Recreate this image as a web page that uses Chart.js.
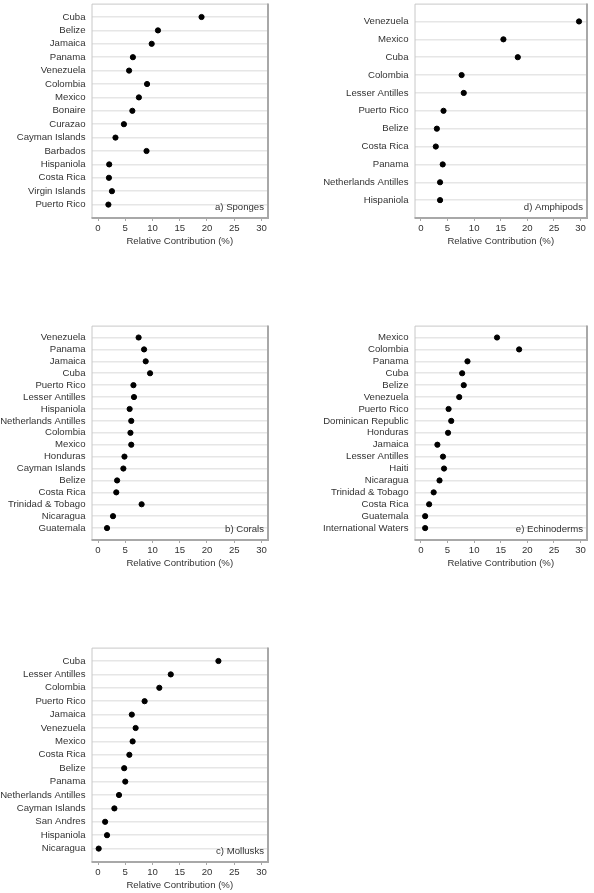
<!DOCTYPE html>
<html>
<head>
<meta charset="utf-8">
<script src="https://cdn.jsdelivr.net/npm/chart.js@4.4.0/dist/chart.umd.min.js"></script>
<style>
  body { margin: 0; background: #fff; }
  .panel { position: absolute; }
</style>
</head>
<body>
<div class="panel" style="left:0;top:0"><canvas id="sponges" width="297" height="252"></canvas></div>
<div class="panel" style="left:297px;top:0"><canvas id="amphipods" width="297" height="252"></canvas></div>
<div class="panel" style="left:0;top:322px"><canvas id="corals" width="297" height="252"></canvas></div>
<div class="panel" style="left:297px;top:322px"><canvas id="echinoderms" width="297" height="252"></canvas></div>
<div class="panel" style="left:0;top:644px"><canvas id="mollusks" width="297" height="252"></canvas></div>
<script>
// Relative contribution (%) by country, per taxon
const spongeSites = ["Cuba", "Belize", "Jamaica", "Panama", "Venezuela", "Colombia", "Mexico", "Bonaire",
  "Curazao", "Cayman Islands", "Barbados", "Hispaniola", "Costa Rica", "Virgin Islands", "Puerto Rico"];
const spongeValues = [19.0, 11.0, 9.85, 6.4, 5.7, 9.0, 7.5, 6.3, 4.75, 3.2, 8.9, 2.05, 2.0, 2.55, 1.9];

const amphipodSites = ["Venezuela", "Mexico", "Cuba", "Colombia", "Lesser Antilles", "Puerto Rico", "Belize",
  "Costa Rica", "Panama", "Netherlands Antilles", "Hispaniola"];
const amphipodValues = [29.7, 15.5, 18.2, 7.65, 8.05, 4.25, 3.0, 2.8, 4.1, 3.6, 3.6];

const coralSites = ["Venezuela", "Panama", "Jamaica", "Cuba", "Puerto Rico", "Lesser Antilles", "Hispaniola",
  "Netherlands Antilles", "Colombia", "Mexico", "Honduras", "Cayman Islands", "Belize", "Costa Rica",
  "Trinidad & Tobago", "Nicaragua", "Guatemala"];
const coralValues = [7.45, 8.45, 8.75, 9.55, 6.5, 6.6, 5.8, 6.1, 5.95, 6.1, 4.85, 4.65, 3.5, 3.35, 8.0, 2.75, 1.65];

const echinodermSites = ["Mexico", "Colombia", "Panama", "Cuba", "Belize", "Venezuela", "Puerto Rico",
  "Dominican Republic", "Honduras", "Jamaica", "Lesser Antilles", "Haiti", "Nicaragua", "Trinidad & Tobago",
  "Costa Rica", "Guatemala", "International Waters"];
const echinodermValues = [14.3, 18.45, 8.75, 7.75, 8.05, 7.2, 5.2, 5.7, 5.1, 3.1, 4.15, 4.35, 3.5, 2.4, 1.55, 0.8, 0.8];

const molluskSites = ["Cuba", "Lesser Antilles", "Colombia", "Puerto Rico", "Jamaica", "Venezuela", "Mexico",
  "Costa Rica", "Belize", "Panama", "Netherlands Antilles", "Cayman Islands", "San Andres", "Hispaniola", "Nicaragua"];
const molluskValues = [22.1, 13.35, 11.25, 8.55, 6.2, 6.9, 6.35, 5.75, 4.8, 5.0, 3.85, 3.0, 1.3, 1.65, 0.12];

const xTicks = [0, 5, 10, 15, 20, 25, 30];
const FONT = { family: "'Liberation Sans', Arial, sans-serif", size: 9.6 };
const TEXT = '#333333';

// grey frame round the plot area, plus the panel tag in its lower right corner
const frame = {
  id: 'frame',
  beforeDatasetsDraw(chart) {
    const { ctx, chartArea: a } = chart;
    ctx.save();
    ctx.strokeStyle = '#c8c8c8';
    ctx.lineWidth = 1;
    ctx.beginPath();
    ctx.moveTo(a.left + 0.5, a.bottom);
    ctx.lineTo(a.left + 0.5, a.top + 0.5);
    ctx.lineTo(a.right, a.top + 0.5);
    ctx.stroke();
    ctx.strokeStyle = '#a8a8a8';
    ctx.lineWidth = 2;
    ctx.beginPath();
    ctx.moveTo(a.right, a.top);
    ctx.lineTo(a.right, a.bottom);
    ctx.lineTo(a.left, a.bottom);
    ctx.stroke();
    ctx.restore();
  },
  afterDraw(chart, args, opts) {
    const { ctx, chartArea: a } = chart;
    ctx.save();
    ctx.fillStyle = TEXT;
    ctx.font = FONT.size + 'px ' + FONT.family;
    ctx.textAlign = 'right';
    ctx.textBaseline = 'middle';
    ctx.fillText(opts.text, a.right - 4, a.bottom - 11);
    ctx.restore();
  }
};

function noPad(scale) {
  scale.paddingTop = 0;
  scale.paddingBottom = 0;
  scale.paddingLeft = 0;
  scale.paddingRight = 0;
}

function makePanel(id, sites, values, tag, side) {
  const yWidth = side === 'left' ? 91.5 : 117.5;
  const padRight = side === 'left' ? 29 : 7;
  new Chart(document.getElementById(id), {
    type: 'scatter',
    data: {
      datasets: [{
        data: values.map((v, i) => ({ x: v, y: i })),
        backgroundColor: '#000',
        borderColor: '#000',
        pointRadius: 2.6,
        pointHoverRadius: 2.6
      }]
    },
    options: {
      responsive: false,
      animation: false,
      events: [],
      layout: { padding: { top: 3, right: padRight, left: 0, bottom: 0 } },
      plugins: { legend: { display: false }, tooltip: { enabled: false }, frame: { text: tag } },
      scales: {
        x: {
          type: 'linear',
          min: -1.2,
          max: 31.2,
          afterBuildTicks: axis => { axis.ticks = xTicks.map(v => ({ value: v })); },
          afterFit: scale => { scale.height = 34; noPad(scale); },
          grid: { drawOnChartArea: false, drawTicks: true, tickLength: 3, color: '#a8a8a8' },
          border: { display: false },
          ticks: { color: TEXT, font: FONT, padding: 2, maxRotation: 0 },
          title: { display: true, text: 'Relative Contribution (%)', color: TEXT, font: FONT,
                   padding: { top: 0, bottom: 5 } }
        },
        y: {
          type: 'linear',
          reverse: true,
          min: -1,
          max: sites.length,
          afterBuildTicks: axis => { axis.ticks = sites.map((s, i) => ({ value: i })); },
          afterFit: scale => { scale.width = yWidth; noPad(scale); },
          grid: { color: '#e6e6e6', lineWidth: 1.5, drawTicks: false },
          border: { display: false },
          ticks: { color: TEXT, font: FONT, padding: 6, autoSkip: false,
                   callback: v => sites[v] }
        }
      }
    },
    plugins: [frame]
  });
}

makePanel('sponges', spongeSites, spongeValues, 'a) Sponges', 'left');
makePanel('amphipods', amphipodSites, amphipodValues, 'd) Amphipods', 'right');
makePanel('corals', coralSites, coralValues, 'b) Corals', 'left');
makePanel('echinoderms', echinodermSites, echinodermValues, 'e) Echinoderms', 'right');
makePanel('mollusks', molluskSites, molluskValues, 'c) Mollusks', 'left');
</script>
</body>
</html>
